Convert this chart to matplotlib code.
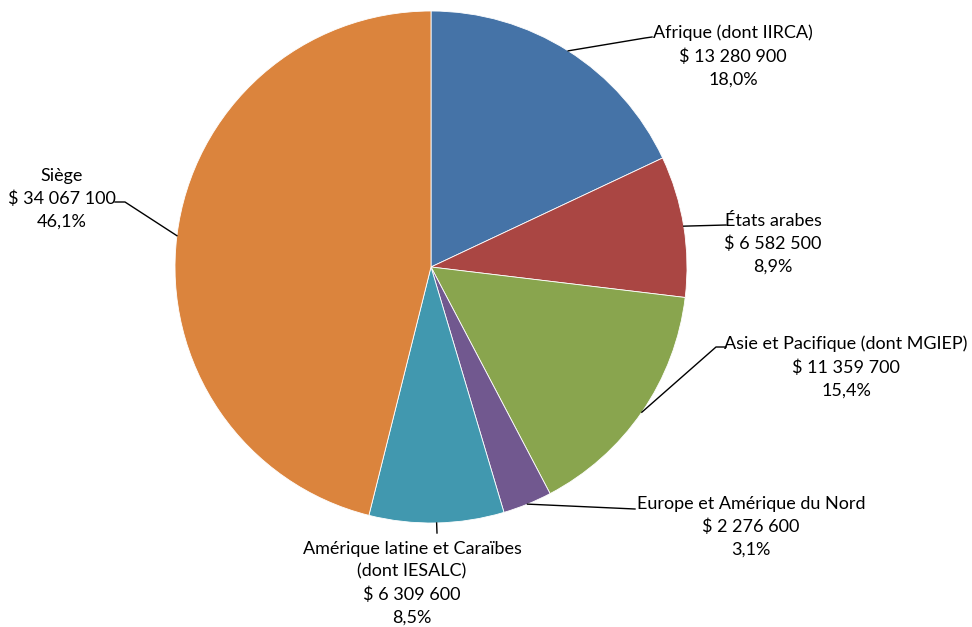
import numpy as np
import matplotlib.pyplot as plt

plt.rcParams['font.family'] = ['Lato', 'DejaVu Sans']

# Data
regions = ["Afrique (dont IIRCA)", "États arabes", "Asie et Pacifique (dont MGIEP)",
           "Europe et Amérique du Nord", "Amérique latine et Caraïbes\n(dont IESALC)", "Siège"]
amounts = ["$ 13 280 900", "$ 6 582 500", "$ 11 359 700",
           "$ 2 276 600", "$ 6 309 600", "$ 34 067 100"]
shares = [18.0, 8.9, 15.4, 3.1, 8.5, 46.1]
colors = ["#4573A7", "#AA4643", "#89A54E", "#71588F", "#4198AF", "#DB843D"]

# Figure in pixel coordinates (y measured from top)
W, H = 972, 627
fig = plt.figure(figsize=(W / 100, H / 100), dpi=100)
ax = fig.add_axes([0, 0, 1, 1])
ax.axis("off")

cx, cy, r = 431, 267, 256

# Draw the pie (inverted y, so counterclock=True looks clockwise)
wedges, _ = ax.pie(shares, colors=colors, startangle=-90, counterclock=True,
                   center=(cx, cy), radius=r,
                   wedgeprops=dict(edgecolor="white", linewidth=0.6))
ax.set_aspect("equal")
ax.set_xlim(0, W)
ax.set_ylim(H, 0)

# Label block centres and leader line end points
label_pos = [(733, 56), (773, 244), (846, 367), (751, 527), (412, 583), (62, 199)]
leader_end = [(652, 37), (726, 225), (726, 347), (635, 509), (437, 533), (115, 202)]
leader_knee = [(645, 38), None, (716, 347), None, None, (125, 202)]

cum = np.cumsum([0] + shares[:-1])
for i, s in enumerate(shares):
    text = f"{regions[i]}\n{amounts[i]}\n{s:.1f}%".replace(".", ",")
    ax.text(label_pos[i][0], label_pos[i][1], text, ha="center", va="center",
            multialignment="center", fontsize=13, linespacing=1.5, color="black")
    if leader_end[i] is not None:
        ang = np.deg2rad((cum[i] + s / 2) / 100 * 360)
        x0 = cx + r * np.sin(ang)
        y0 = cy - r * np.cos(ang)
        xs = [x0]
        ys = [y0]
        if leader_knee[i] is not None:
            xs.append(leader_knee[i][0])
            ys.append(leader_knee[i][1])
        xs.append(leader_end[i][0])
        ys.append(leader_end[i][1])
        ax.plot(xs, ys, color="black", linewidth=1)

fig.savefig("out.png", dpi=100)
